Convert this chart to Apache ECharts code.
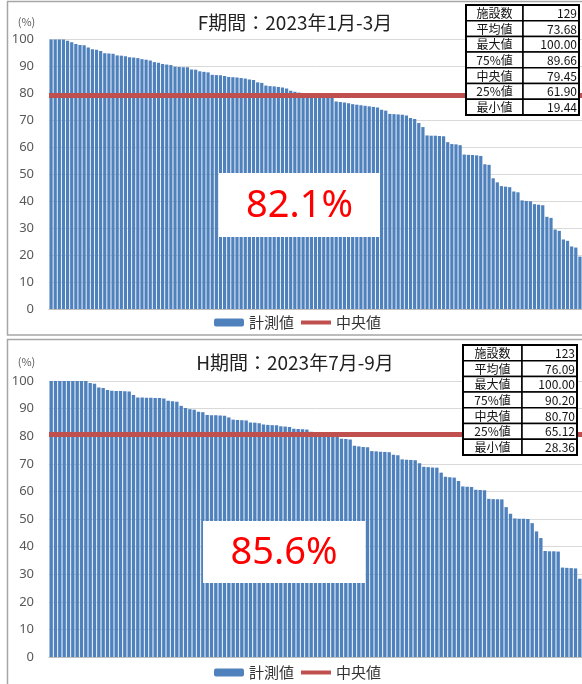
<!DOCTYPE html>
<html><head><meta charset="utf-8">
<script src="https://cdn.jsdelivr.net/npm/echarts@6/dist/echarts.min.js"></script>
<style>html,body{margin:0;padding:0;background:#fff;}#c{width:582px;height:684px;}</style>
</head><body><div id="c"></div>
<script>
// ---- data ----
const titleF = 'F期間：2023年1月-3月';
const titleH = 'H期間：2023年7月-9月';
const seriesNames = ['計測値', '中央値'];
const valuesF = [100,100,100,100,99.5,99.0,98.3,98.0,97.9,97.0,
 96.4,96.2,95.7,94.9,94.8,94.7,94.1,94.0,93.8,93.4,
 93.3,93.1,92.7,92.5,92.2,91.6,91.4,90.9,90.7,90.5,
 89.9,89.8,89.7,89.66,88.9,88.8,88.2,88.0,87.8,86.9,
 86.8,86.7,86.5,86.1,86.0,85.9,85.7,85.5,85.2,85.0,
 84.1,83.9,82.9,82.7,82.6,82.4,82.2,81.8,81.0,80.6,
 80.3,80.0,79.8,79.6,79.45,79.2,78.9,78.6,78.3,77.0,
 76.8,76.6,76.3,76.0,75.8,75.6,75.4,75.2,75.0,74.8,
 73.9,73.6,72.4,72.3,72.2,72.1,71.8,70.9,70.5,69.0,
 67.5,64.4,64.3,64.3,64.2,64.1,61.9,61.2,61.1,60.8,
 57.3,57.2,57.1,57.0,56.8,53.7,53.5,48.5,47.0,45.6,
 45.4,45.2,43.6,43.3,40.3,40.1,40.0,38.9,38.7,38.5,
 34.2,33.8,29.5,29.0,25.8,25.3,23.2,22.8,19.44];
const valuesH = [100,100,100,100,100,100,100,100,100,99.3,
 99.0,97.6,97.5,96.7,96.5,96.4,96.4,96.3,96.2,94.9,
 94.0,94.0,93.9,93.9,93.8,93.8,93.7,92.8,92.7,92.5,
 91.0,90.2,89.8,89.6,88.9,88.7,87.7,87.6,87.6,87.5,
 87.4,86.8,86.0,85.9,85.8,85.7,85.0,84.9,84.7,84.2,
 84.1,84.0,84.0,83.6,83.5,83.3,82.7,82.6,82.5,82.4,
 81.6,80.7,80.5,80.4,80.3,80.2,80.0,79.1,79.0,78.8,
 76.5,76.3,76.1,76.0,74.6,74.5,74.4,74.3,74.2,73.3,
 73.1,71.6,71.5,71.4,71.3,70.2,68.9,68.8,68.7,68.6,
 66.8,65.3,65.12,65.0,63.8,61.8,61.7,61.6,60.6,60.5,
 60.4,57.3,57.2,57.2,57.1,54.3,51.9,50.2,50.1,50.1,
 50.0,48.5,45.5,43.1,38.4,38.3,38.3,38.2,32.4,32.3,
 32.2,32.1,28.36];
const medianF = 79.45;
const medianH = 80.70;
const statLabels = ['施設数','平均値','最大値','75%値','中央値','25%値','最小値'];
const statsF = ['129','73.68','100.00','89.66','79.45','61.90','19.44'];
const statsH = ['123','76.09','100.00','90.20','80.70','65.12','28.36'];
const bigLabelF = '82.1%';
const bigLabelH = '85.6%';
const yMin = 0, yMax = 100, yStep = 10;
const categoriesF = valuesF.map((v, i) => String(i + 1));
const categoriesH = valuesH.map((v, i) => String(i + 1));

// ---- styles ----
const FONT = '"Noto Sans CJK JP", "Noto Sans", sans-serif';
const BLUE = '#4F81BD', RED = '#C0504D', GRAY = '#595959';

function table(x, y, w, split, rowH, labels, vals) {
  const children = [];
  for (let i = 0; i < labels.length; i++) {
    const ry = y + i * rowH;
    children.push({type:'rect', z:100, shape:{x:x, y:ry, width:split - x, height:rowH}, style:{fill:'#fff', stroke:'#000', lineWidth:1.5}});
    children.push({type:'rect', z:100, shape:{x:split, y:ry, width:x + w - split, height:rowH}, style:{fill:'#fff', stroke:'#000', lineWidth:1.5}});
    children.push({type:'text', z:101, x:(x + split) / 2, y:ry + rowH / 2 + 0.5, style:{text:labels[i], fill:'#111', font:'12px ' + FONT, align:'center', verticalAlign:'middle'}});
    children.push({type:'text', z:101, x:x + w - 2, y:ry + rowH / 2 + 0.5, style:{text:vals[i], fill:'#111', font:'12px ' + FONT, align:'right', verticalAlign:'middle'}});
  }
  children.push({type:'rect', z:102, shape:{x:x, y:y, width:w, height:rowH * labels.length}, style:{fill:null, stroke:'#000', lineWidth:2}});
  return {type:'group', zlevel:1, z:100, children:children};
}
function bigLabel(x, y, w, h, text) {
  return {type:'group', zlevel:1, z:100, children:[
    {type:'rect', z:100, shape:{x:x, y:y, width:w, height:h}, style:{fill:'#fff'}},
    {type:'text', z:101, x:x + w / 2, y:y + h / 2 + 1, style:{text:text, fill:'#FF0000', font:'38px "Noto Sans", sans-serif', align:'center', verticalAlign:'middle'}}
  ]};
}

const chart = echarts.init(document.getElementById('c'), null, {renderer:'canvas'});
function yAxis(gi) {
  return {gridIndex:gi, type:'value', min:yMin, max:yMax, interval:yStep,
    axisLabel:{color:GRAY, fontSize:13, fontFamily:'"Noto Sans", sans-serif', margin:15},
    axisLine:{show:false}, axisTick:{show:false},
    splitLine:{lineStyle:{color:'#d9d9d9', width:1}}};
}
function xAxis(gi, cats) {
  return {gridIndex:gi, type:'category', data:cats, boundaryGap:true,
    axisLabel:{show:false}, axisTick:{show:false},
    axisLine:{lineStyle:{color:'#bfbfbf'}}};
}
function legend(top) {
  return {top:top, left:214, itemWidth:30, itemHeight:8, itemGap:7, padding:0,
    data:[{name:seriesNames[0]}, {name:seriesNames[1], icon:'path://M0 0H30V4H0Z', itemStyle:{color:RED}}],
    textStyle:{fontSize:15, color:'#333', fontFamily:FONT}, selectedMode:false};
}
const option = {
  animation:false,
  grid:[
    {left:49, top:39.5, width:533, height:269.5},
    {left:49, top:381, width:533, height:276}
  ],
  xAxis:[xAxis(0, categoriesF), xAxis(1, categoriesH)],
  yAxis:[yAxis(0), yAxis(1)],
  legend:[legend(315), legend(665)],
  series:[
    {name:seriesNames[0], type:'bar', xAxisIndex:0, yAxisIndex:0, data:valuesF, barCategoryGap:'22%', itemStyle:{color:BLUE}},
    {name:seriesNames[1], type:'line', xAxisIndex:0, yAxisIndex:0, data:[], symbol:'none', showSymbol:false, z:5,
      lineStyle:{color:RED, width:4}, itemStyle:{color:RED},
      markLine:{silent:true, symbol:'none', label:{show:false}, lineStyle:{color:RED, width:5, type:'solid'}, data:[{yAxis:medianF}]}},
    {name:seriesNames[0], type:'bar', xAxisIndex:1, yAxisIndex:1, data:valuesH, barCategoryGap:'22%', itemStyle:{color:BLUE}},
    {name:seriesNames[1], type:'line', xAxisIndex:1, yAxisIndex:1, data:[], symbol:'none', showSymbol:false, z:5,
      lineStyle:{color:RED, width:4}, itemStyle:{color:RED},
      markLine:{silent:true, symbol:'none', label:{show:false}, lineStyle:{color:RED, width:5, type:'solid'}, data:[{yAxis:medianH}]}}
  ],
  graphic:[
    {type:'rect', z:-10, shape:{x:7.5, y:1.5, width:600, height:333.5}, style:{fill:null, stroke:'#a6a6a6', lineWidth:1.5}},
    {type:'rect', z:-10, shape:{x:7.5, y:339.5, width:600, height:400}, style:{fill:null, stroke:'#a6a6a6', lineWidth:1.5}},
    {type:'text', x:295, y:23, style:{text:titleF, fill:'#222', font:'19px ' + FONT, align:'center', verticalAlign:'middle'}},
    {type:'text', x:295, y:363, style:{text:titleH, fill:'#222', font:'19px ' + FONT, align:'center', verticalAlign:'middle'}},
    {type:'text', x:26.5, y:21.5, style:{text:'(%)', fill:GRAY, font:'11px ' + FONT, align:'center', verticalAlign:'middle'}},
    {type:'text', x:26.5, y:362, style:{text:'(%)', fill:GRAY, font:'11px ' + FONT, align:'center', verticalAlign:'middle'}},
    table(466, 5, 113, 523, 15.7, statLabels, statsF),
    table(463, 345, 114, 522, 15.7, statLabels, statsH),
    bigLabel(219, 173, 161, 64, bigLabelF),
    bigLabel(203, 521, 162, 62, bigLabelH)
  ]
};
chart.setOption(option);
</script></body></html>
